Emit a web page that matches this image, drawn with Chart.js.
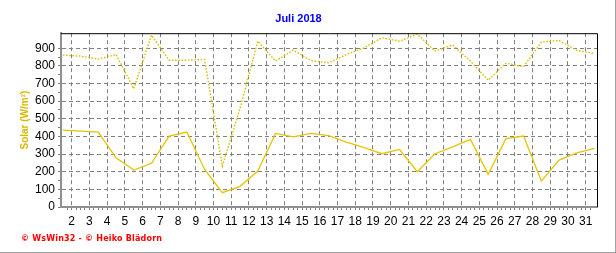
<!DOCTYPE html>
<html>
<head>
<meta charset="utf-8">
<script src="https://cdn.jsdelivr.net/npm/chart.js@4/dist/chart.umd.min.js"></script>
<style>
  html, body { margin: 0; padding: 0; background: #fff; }
  #wrap { position: relative; width: 616px; height: 253px; }
  #frame { position: absolute; left: 0; top: 0; width: 615px; height: 252px;
           border-right: 1px solid #a0a0a0; border-bottom: 1px solid #a0a0a0; }
  #footer { position: absolute; left: 21px; top: 234px; color: #ff0000;
            font: bold 8px "DejaVu Sans", sans-serif; letter-spacing: 0.2px; }
</style>
</head>
<body>
<div id="wrap">
  <canvas id="chart" width="616" height="253"></canvas>
  <div id="frame"></div>
  <div id="footer">© WsWin32 - © Heiko Blädorn</div>
</div>
<script>
// Tage im Juli (Werte werden in der Tagesmitte gezeichnet)
const tage = [1, 2, 3, 4, 5, 6, 7, 8, 9, 10, 11, 12, 13, 14, 15, 16,
              17, 18, 19, 20, 21, 22, 23, 24, 25, 26, 27, 28, 29, 30, 31];

// Solar Tagesmittel (W/m²) - durchgezogene Linie
const solarMittel = [436, 430, 425, 279, 209, 248, 402, 425, 213, 81, 117, 204, 417, 398, 417, 404,
                     368, 336, 302, 326, 200, 302, 341, 383, 185, 387, 402, 147, 266, 307, 332];

// Solar Tagesmaximum (W/m²) - gepunktete Linie
const solarMax = [861, 855, 838, 864, 670, 974, 832, 832, 836, 232, 560, 940, 827, 889, 830, 817,
                  864, 902, 959, 940, 980, 884, 918, 827, 718, 815, 795, 934, 944, 888, 870];

// Achsenbeschriftungen
const xLabels = [2, 3, 4, 5, 6, 7, 8, 9, 10, 11, 12, 13, 14, 15, 16, 17,
                 18, 19, 20, 21, 22, 23, 24, 25, 26, 27, 28, 29, 30, 31];
const yLabels = [0, 100, 200, 300, 400, 500, 600, 700, 800, 900];

const gold = '#e6c400';
const gridGrau = '#808080';

function isGanz(v, n) {
  return Math.abs(v / n - Math.round(v / n)) < 1e-6;
}

// Rahmen oben und rechts (schwarz)
const rahmenPlugin = {
  id: 'rahmen',
  afterDatasetsDraw(chart) {
    const { ctx, chartArea: a } = chart;
    ctx.save();
    ctx.strokeStyle = '#000';
    ctx.lineWidth = 1;
    ctx.beginPath();
    ctx.moveTo(a.left, a.top + 0.5);
    ctx.lineTo(a.right + 0.5, a.top + 0.5);
    ctx.lineTo(a.right + 0.5, a.bottom);
    ctx.stroke();
    ctx.restore();
  }
};

const ctx = document.getElementById('chart').getContext('2d');
new Chart(ctx, {
  type: 'line',
  data: {
    datasets: [
      {
        label: 'Solar Max',
        data: tage.map((t, i) => ({ x: t + 0.5, y: solarMax[i] })),
        borderColor: '#e0bc00',
        borderWidth: 1.4,
        borderDash: [1.6, 1.6],
        pointRadius: 0,
        tension: 0
      },
      {
        label: 'Solar Mittel',
        data: tage.map((t, i) => ({ x: t + 0.5, y: solarMittel[i] })),
        borderColor: gold,
        borderWidth: 1.3,
        pointRadius: 0,
        tension: 0
      }
    ]
  },
  options: {
    responsive: false,
    animation: false,
    layout: { padding: { left: 0, right: 19, top: 0, bottom: 0 } },
    plugins: {
      legend: { display: false },
      tooltip: { enabled: false },
      title: {
        display: true,
        text: 'Juli 2018',
        color: '#0000ff',
        font: { family: 'Liberation Sans', size: 11, weight: 'bold' },
        padding: { top: 12.5, bottom: 7.5 }
      }
    },
    scales: {
      x: {
        type: 'linear',
        min: 1.396,
        max: 31.64,
        afterFit: s => { s.height = 46; },
        afterBuildTicks: s => {
          s.ticks = s.ticks.filter(t => isGanz(t.value, 0.25) && t.value > 1.4 && t.value < 31.64);
        },
        ticks: {
          stepSize: 0.25,
          autoSkip: false,
          maxRotation: 0,
          padding: 4,
          color: '#000',
          font: { family: 'Liberation Sans', size: 12 },
          callback: v => (isGanz(v, 1) && xLabels.includes(Math.round(v))) ? String(Math.round(v)) : ''
        },
        grid: {
          color: c => (c.tick && isGanz(c.tick.value, 1)) ? gridGrau : 'rgba(0,0,0,0)',
          tickColor: gridGrau,
          tickLength: 3,
          tickBorderDash: []
        },
        border: { color: '#909090', width: 2, dash: [4, 3] }
      },
      y: {
        min: 0,
        max: 985,
        afterFit: s => { s.width = 61; },
        afterBuildTicks: s => {
          s.ticks = s.ticks.filter(t => isGanz(t.value, 50) && t.value < 980);
        },
        ticks: {
          stepSize: 50,
          autoSkip: false,
          padding: 3,
          color: '#000',
          font: { family: 'Liberation Sans', size: 12 },
          callback: v => yLabels.includes(v) ? String(v) : ''
        },
        grid: {
          color: c => (c.tick && isGanz(c.tick.value, 100) && c.tick.value > 0) ? gridGrau : 'rgba(0,0,0,0)',
          tickColor: gridGrau,
          tickLength: 3,
          tickBorderDash: []
        },
        border: { color: '#909090', width: 2, dash: [4, 3] },
        title: {
          display: true,
          text: 'Solar (W/m²)',
          color: '#d8b800',
          font: { family: 'Liberation Sans', size: 10, weight: 'bold' },
          padding: { top: 19, bottom: 0 }
        }
      }
    }
  },
  plugins: [rahmenPlugin]
});
</script>
</body>
</html>
